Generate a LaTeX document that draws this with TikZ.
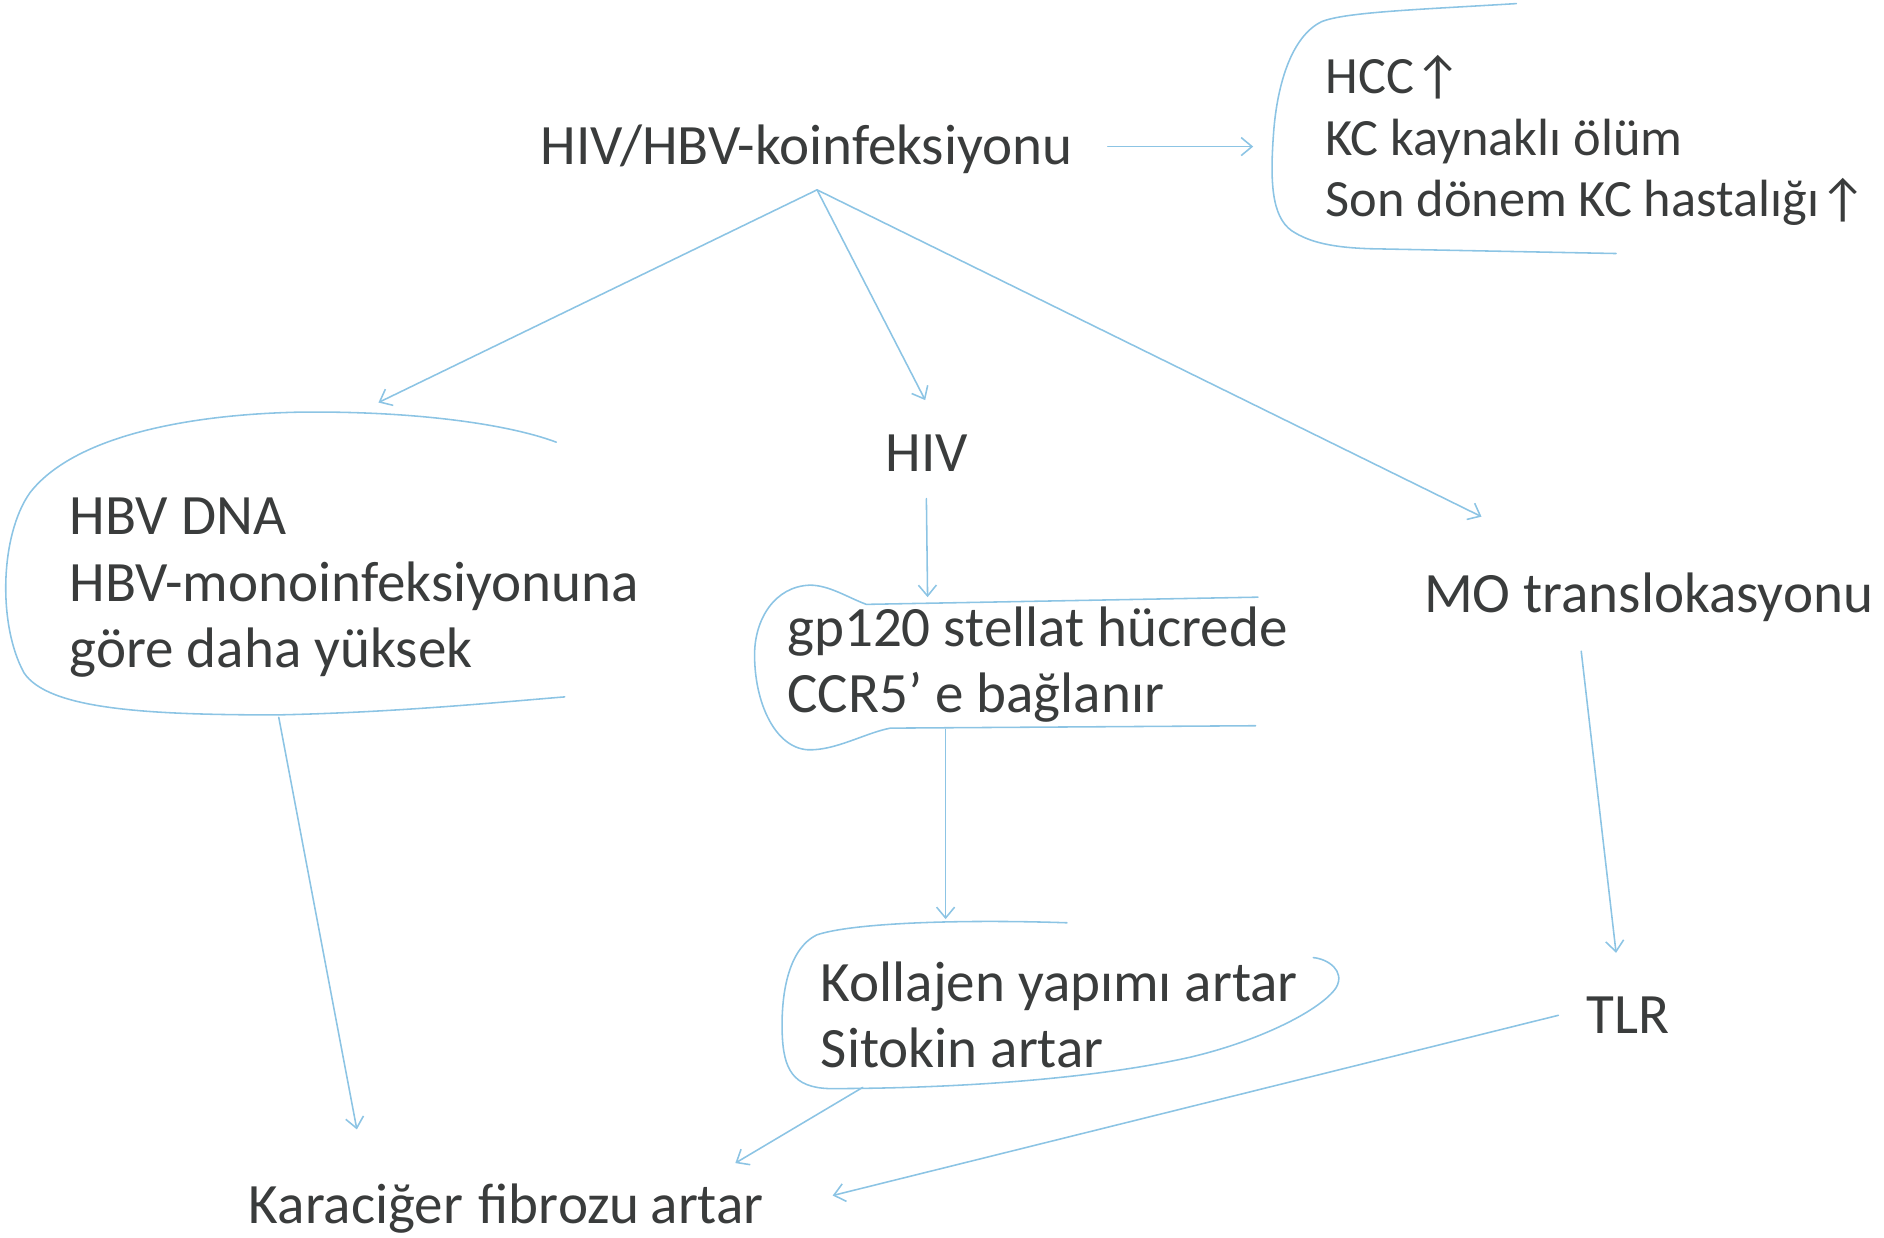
\documentclass[tikz,border=0pt]{standalone}
\usepackage{fontspec}
\setmainfont{Carlito}
\usetikzlibrary{arrows.meta}
\definecolor{ink}{RGB}{58,60,60}
\definecolor{pen}{RGB}{140,196,228}

\begin{document}
\begin{tikzpicture}[x=1pt,y=-1pt,
  lbl/.style={anchor=base west, inner sep=0pt, text=ink,
              font=\fontsize{47.5}{55}\selectfont},
  blk/.style={anchor=north west, inner sep=0pt, text=ink, align=left,
              font=\fontsize{47.5}{55}\selectfont},
  smallblk/.style={blk, font=\fontsize{43.6}{51}\selectfont},
  outline/.style={draw=pen, line width=1.3pt, line cap=round, line join=round},
  link/.style={outline, -{Straight Barb[length=9pt,width=15pt,line width=1.3pt]}}
]
\useasboundingbox (0,0) rectangle (1568,1030);

% texts
\node[lbl] (koinf) at (450,137) {HIV/HBV-koinfeksiyonu};
\node[smallblk] (hcc) at (1103,42.3) {\strut HCC↑\\KC kaynaklı ölüm\\Son dönem KC hastalığı↑};
\node[lbl] (hiv) at (737,392) {HIV};
\node[blk] (hbv) at (58,406.5) {\strut HBV DNA\\HBV-monoinfeksiyonuna\\göre daha yüksek};
\node[blk] (gp) at (655,499.5) {\strut gp120 stellat hücrede\\CCR5’ e bağlanır};
\node[lbl] (mo) at (1185,510) {MO translokasyonu};
\node[blk] (kol) at (683,794.5) {\strut Kollajen yapımı artar\\Sitokin artar};
\node[lbl] (tlr) at (1320,860) {TLR};
\node[lbl] (fib) at (207,1018) {Karaciğer\hspace{0.05em} fibrozu\hspace{-0.03em} artar};

% hand-drawn outlines around the text blocks
\draw[outline] (1262,3) .. controls (1180,8) and (1120,10) .. (1100,18)
  .. controls (1075,30) and (1063,70) .. (1060,110)
  .. controls (1057,150) and (1058,180) .. (1075,192)
  .. controls (1090,202) and (1110,206) .. (1140,207) -- (1345,211);
\draw[outline] (463,368) .. controls (420,352) and (340,342) .. (250,343)
  .. controls (150,345) and (60,365) .. (25,410)
  .. controls (0,445) and (-2,520) .. (20,560)
  .. controls (40,590) and (120,595) .. (230,595)
  .. controls (330,593) and (420,584) .. (470,580);
\draw[outline] (1047,497) -- (721,503)
  .. controls (705,497) and (690,487) .. (674,487)
  .. controls (645,488) and (628,515) .. (628,545)
  .. controls (628,585) and (645,622) .. (672,624)
  .. controls (695,625) and (720,610) .. (741,606) -- (1045,604);
\draw[outline] (888,768) .. controls (800,765) and (710,768) .. (680,778)
  .. controls (655,790) and (650,830) .. (651,860)
  .. controls (652,890) and (660,905) .. (690,906)
  .. controls (780,906) and (900,900) .. (990,880)
  .. controls (1050,866) and (1100,840) .. (1112,822)
  .. controls (1120,808) and (1105,798) .. (1093,797);

% connector ends
\coordinate (apex) at (680,158);
\coordinate (koinfR) at (922,122);
\coordinate (hccL) at (1043,122);
\coordinate (hbvT) at (315,335);
\coordinate (hivT) at (770,333);
\coordinate (moT) at (1233,430);
\coordinate (hivB) at (771,415);
\coordinate (gpT) at (772,497);
\coordinate (gpB) at (787,607);
\coordinate (kolT) at (787,765);
\coordinate (hbvB) at (232,597);
\coordinate (fibT) at (297,940);
\coordinate (kolB) at (718,905);
\coordinate (fibR1) at (612,968);
\coordinate (moB) at (1316,542);
\coordinate (tlrT) at (1345,793);
\coordinate (tlrL) at (1297,845);
\coordinate (fibR2) at (693,995);

% connectors
\draw[link] (koinfR) -- (hccL);
\draw[link] (apex) -- (hbvT);
\draw[link] (apex) -- (hivT);
\draw[link] (apex) -- (moT);
\draw[link] (hivB) -- (gpT);
\draw[link] (gpB) -- (kolT);
\draw[link] (hbvB) -- (fibT);
\draw[link] (kolB) -- (fibR1);
\draw[link] (moB) -- (tlrT);
\draw[link] (tlrL) -- (fibR2);
\end{tikzpicture}
\end{document}
